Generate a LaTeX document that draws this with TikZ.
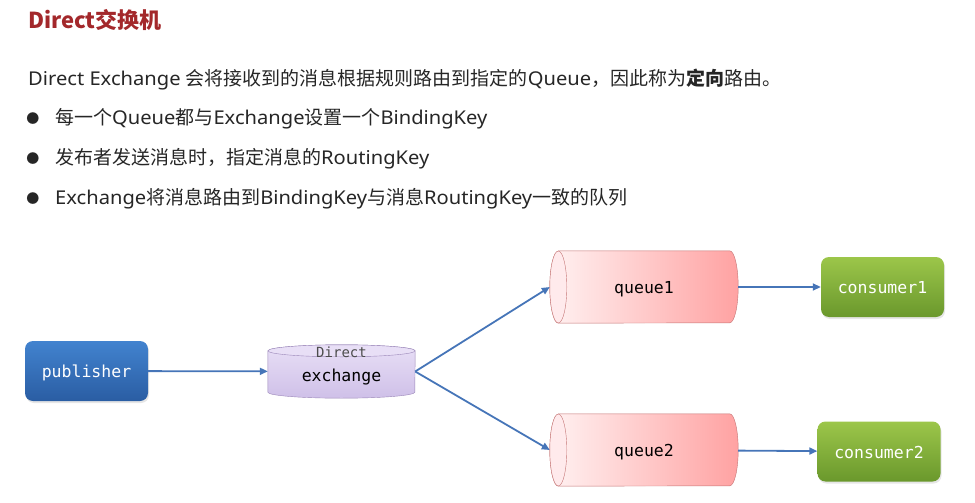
\documentclass[tikz,border=0pt]{standalone}
\usepackage{fontspec}
\setmainfont{Noto Sans}[FakeStretch=1.06]
\newfontfamily\cjk{Noto Sans CJK SC}
\setmonofont{DejaVu Sans Mono}
\usetikzlibrary{arrows.meta,positioning,shadows,backgrounds}

\definecolor{titlered}{HTML}{A3282B}
\definecolor{bodytext}{HTML}{262626}
\definecolor{linkblue}{HTML}{4675B8}
\definecolor{pubtop}{HTML}{4283CF}
\definecolor{pubbot}{HTML}{2A5DA3}
\definecolor{contop}{HTML}{9CC64A}
\definecolor{conbot}{HTML}{6A982C}
\definecolor{queueleft}{HTML}{FFF2F2}
\definecolor{queueright}{HTML}{FFA2A2}
\definecolor{queueface}{HTML}{FFEAEC}
\definecolor{queueline}{HTML}{C47474}
\definecolor{extop}{HTML}{E8DFF6}
\definecolor{exbot}{HTML}{CFC0E8}
\definecolor{exline}{HTML}{9A86B8}

\begin{document}
\begin{tikzpicture}[x=1pt,y=-1pt,
  bodyline/.style={anchor=west, inner sep=0pt, text=bodytext, font=\fontsize{19}{22}\selectfont},
  dotmark/.style={anchor=center, inner sep=0pt, text=bodytext, font=\cjk\fontsize{13}{15}\selectfont},
  monolabel/.style={font=\ttfamily\fontsize{16.5}{18}\selectfont, text height=13pt, text depth=0pt},
  actor/.style={monolabel, rounded corners=8pt, minimum width=123pt, minimum height=60pt, text=white,
    drop shadow={shadow xshift=1pt, shadow yshift=-2pt, opacity=0.2}},
  queuebox/.style={monolabel, minimum width=188pt, minimum height=72pt, inner sep=0pt, text=black},
  queuebody/.style={draw=queueline, left color=queueleft, right color=queueright},
  queueend/.style={draw=queueline, fill=queueface},
  flow/.style={-{Triangle[length=8pt,width=7pt]}, draw=linkblue, line width=1.8pt}
]
  \useasboundingbox (0,0) rectangle (975,503);

  % heading and text
  \node[anchor=west, inner sep=0pt, text=titlered, font=\cjk\bfseries\fontsize{22}{26}\selectfont] (title) at (28,20) {Direct交换机};
  \node[bodyline] (intro) at (28,80) {Direct Exchange {\cjk 会将接收到的消息根据规则路由到指定的}Queue{\cjk ，因此称为\textbf{定向}路由。}};
  \node[dotmark] (dot1) at (33,119) {●};
  \node[bodyline] (item1) at (55,119) {{\cjk 每一个}Queue{\cjk 都与}Exchange{\cjk 设置一个}BindingKey};
  \node[dotmark] (dot2) at (33,159) {●};
  \node[bodyline] (item2) at (55,159) {{\cjk 发布者发送消息时，指定消息的}RoutingKey};
  \node[dotmark] (dot3) at (33,199) {●};
  \node[bodyline] (item3) at (55,199) {Exchange{\cjk 将消息路由到}BindingKey{\cjk 与消息}RoutingKey{\cjk 一致的队列}};

  % diagram
  \node[actor, top color=pubtop, bottom color=pubbot] (publisher) at (86.5,371) {publisher};
  \node[monolabel, minimum width=147pt, minimum height=53pt, inner sep=0pt, text height=19pt, text depth=0pt]
    (exchange) at (341.5,371.5) {exchange};
  \node[anchor=north, inner sep=0pt, font=\ttfamily\fontsize{14}{16}\selectfont, text=black!70]
    (extype) at ([yshift=-2pt]exchange.north) {Direct};
  \node[queuebox] (queue1) at (644,287) {queue1};
  \node[queuebox] (queue2) at (644,450) {queue2};
  \node[actor, top color=contop, bottom color=conbot] (consumer1) at (882.5,287) {consumer1};
  \node[actor, top color=contop, bottom color=conbot] (consumer2) at (879,451.5) {consumer2};

  \begin{scope}[on background layer]
    % exchange drum
    \shade[draw=exline, top color=extop, bottom color=exbot]
      ([yshift=-6pt]exchange.north west) -- ([yshift=6pt]exchange.south west)
      arc (180:360:73.5pt and 6pt) -- ([yshift=-6pt]exchange.north east)
      arc (0:180:73.5pt and 6pt) -- cycle;
    \draw[exline, fill=extop] ([yshift=-6pt]exchange.north) ellipse (73.5pt and 6pt);
    % queues
    \foreach \q in {queue1,queue2} {
      \shade[queuebody] ([xshift=8.5pt]\q.north west) -- ([xshift=-8.5pt]\q.north east)
        arc (90:-90:8.5pt and 36pt) -- ([xshift=8.5pt]\q.south west)
        arc (270:90:8.5pt and 36pt) -- cycle;
      \draw[queueend] ([xshift=8.5pt]\q.west) ellipse (8.5pt and 36pt);
    }
  \end{scope}

  \draw[flow] (publisher) -- (exchange);
  \draw[flow] (exchange.east) -- (queue1.west);
  \draw[flow] (exchange.east) -- (queue2.west);
  \draw[flow] (queue1) -- (consumer1);
  \draw[flow] (queue2) -- (consumer2);
\end{tikzpicture}
\end{document}
